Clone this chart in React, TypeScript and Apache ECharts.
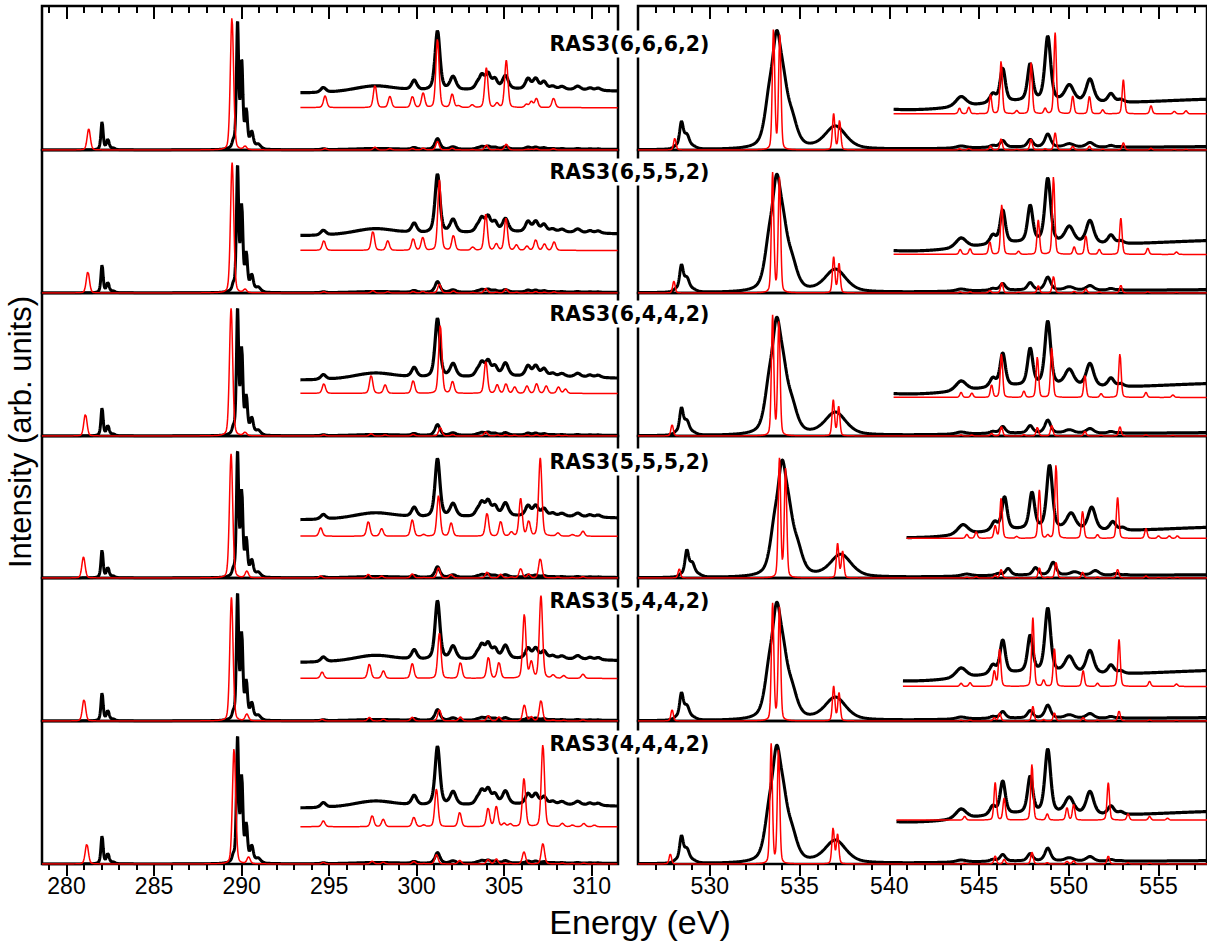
import React, { useEffect, useRef } from "react";
import * as echarts from "echarts";

// ---------------- data ----------------
const ROW_LABELS = ["RAS3(6,6,6,2)", "RAS3(6,5,5,2)", "RAS3(6,4,4,2)", "RAS3(5,5,5,2)", "RAS3(5,4,4,2)", "RAS3(4,4,4,2)"];

const C_RANGE = [278.6, 311.5];
const O_RANGE = [526.0, 557.7];
const C_MAJOR = [280, 285, 290, 295, 300, 305, 310];
const C_MINOR = [279, 281, 282, 283, 284, 286, 287, 288, 289, 291, 292, 293, 294, 296, 297, 298, 299, 301, 302, 303, 304, 306, 307, 308, 309, 311];
const O_MAJOR = [530, 535, 540, 545, 550, 555];
const O_MINOR = [527, 528, 529, 531, 532, 533, 534, 536, 537, 538, 539, 541, 542, 543, 544, 546, 547, 548, 549, 551, 552, 553, 554, 556, 557];

// experiment, carbon K-edge: [energy, height, fwhm]
const EXP_C: [number, number, number][] = [
  [282.03, 0.21, 0.15], [282.36, 0.075, 0.18], [282.65, 0.012, 0.3],
  [289.52, 0.035, 0.15], [289.77, 0.93, 0.15], [290.01, 0.62, 0.16], [290.27, 0.27, 0.17], [290.58, 0.12, 0.22], [290.95, 0.035, 0.35],
  [294.67, 0.0065, 0.35], [297.6, 0.009, 3.0], [306.5, 0.0065, 14],
  [299.86, 0.013, 0.35], [301.19, 0.081, 0.33], [302.08, 0.018, 0.4],
  [303.45, 0.006, 0.3], [303.72, 0.018, 0.35], [304.08, 0.02, 0.35], [304.47, 0.013, 0.35], [305.07, 0.018, 0.4],
  [306.36, 0.014, 0.35], [306.8, 0.014, 0.35], [307.27, 0.01, 0.35], [307.77, 0.004, 0.35], [308.3, 0.004, 0.4],
  [309.2, 0.005, 0.4], [309.9, 0.003, 0.35], [310.37, 0.003, 0.35],
];

// experiment, oxygen K-edge: [energy, height, fwhm]
const EXP_O: [number, number, number][] = [
  [528.1, 0.015, 0.3], [528.42, 0.19, 0.25], [528.72, 0.1, 0.35], [529.1, 0.015, 0.4],
  [533.3, 0.3, 0.6], [533.72, 0.64, 0.55], [534.1, 0.36, 0.65], [534.6, 0.16, 0.7],
  [537.0, 0.17, 1.4], [547.0, 0.012, 7], [560.0, 0.026, 20],
  [544.0, 0.015, 0.7], [545.77, 0.013, 0.4], [546.32, 0.05, 0.35], [547.85, 0.055, 0.35],
  [548.83, 0.097, 0.38], [550.03, 0.025, 0.6], [551.18, 0.035, 0.5], [552.35, 0.013, 0.4], [552.9, 0.004, 0.4],
];

// theory (RAS), carbon K-edge: [energy, height]
const C_R1: [number, number][] = [
  [281.27, 0.158], [289.45, 0.99], [290.2, 0.025],
  [294.77, 0.011], [297.62, 0.021], [298.47, 0.0104], [299.76, 0.0104], [300.37, 0.0135], [301.19, 0.064], [302.03, 0.0125], [302.4, 0.0016],
  [303.17, 0.0025], [303.98, 0.037], [304.59, 0.004], [305.12, 0.044], [306.27, 0.003], [306.55, 0.0056], [306.84, 0.0085], [307.82, 0.0088],
];
const C_R2: [number, number][] = [
  [281.22, 0.16], [289.46, 0.98], [290.2, 0.025],
  [294.7, 0.009], [297.5, 0.018], [298.35, 0.009], [299.8, 0.011], [300.35, 0.012], [301.3, 0.066], [302.1, 0.014], [303.2, 0.003],
  [303.95, 0.034], [304.55, 0.006], [305.1, 0.03], [305.7, 0.005], [306.3, 0.004], [306.8, 0.01], [307.3, 0.006], [307.85, 0.008],
];
const C_R3: [number, number][] = [
  [281.08, 0.165], [289.4, 0.96], [290.2, 0.025],
  [294.7, 0.009], [297.4, 0.017], [298.2, 0.008], [299.8, 0.012], [301.35, 0.064], [302.05, 0.011], [303.95, 0.03], [304.6, 0.008],
  [305.1, 0.009], [305.6, 0.006], [306.3, 0.007], [306.85, 0.009], [307.4, 0.007], [308.1, 0.006], [308.5, 0.004],
];
const C_R4: [number, number][] = [
  [280.97, 0.16], [289.4, 0.94], [290.3, 0.05],
  [294.52, 0.016], [297.24, 0.028], [298.0, 0.0145], [299.75, 0.031], [300.4, 0.003], [301.25, 0.077], [301.97, 0.025], [304.02, 0.044],
  [304.8, 0.028], [305.41, 0.0075], [305.94, 0.071], [306.4, 0.028], [307.06, 0.148], [308.07, 0.006], [308.9, 0.003], [309.5, 0.0095],
];
const C_R5: [number, number][] = [
  [281.0, 0.163], [289.42, 0.93], [290.3, 0.05],
  [294.6, 0.012], [297.3, 0.027], [298.1, 0.014], [299.75, 0.028], [301.3, 0.085], [302.5, 0.03], [304.1, 0.04], [304.7, 0.03],
  [306.15, 0.12], [306.55, 0.03], [307.1, 0.155], [307.8, 0.006], [308.4, 0.005], [309.5, 0.008],
];
const C_R6: [number, number][] = [
  [281.16, 0.15], [289.57, 0.87], [290.4, 0.05],
  [294.67, 0.011], [297.46, 0.021], [298.09, 0.014], [299.84, 0.018], [300.4, 0.003], [301.13, 0.071], [302.46, 0.027], [304.08, 0.035],
  [304.55, 0.038], [305.0, 0.006], [305.35, 0.005], [306.13, 0.091], [307.21, 0.154], [308.32, 0.006], [308.9, 0.003], [309.55, 0.006], [310.15, 0.003],
];

// theory (RAS), oxygen K-edge: [energy, height]
const O_R1: [number, number][] = [
  [528.05, 0.088], [533.55, 0.9], [533.9, 0.85], [536.9, 0.27], [537.23, 0.22],
  [543.91, 0.009], [544.43, 0.0106], [545.64, 0.03], [546.23, 0.084], [547.1, 0.005], [547.9, 0.081], [548.68, 0.0085], [549.24, 0.129],
  [550.22, 0.028], [551.15, 0.028], [551.89, 0.0064], [553.04, 0.054], [554.58, 0.0128], [555.88, 0.004], [556.53, 0.005],
];
const O_R2: [number, number][] = [
  [528.0, 0.09], [533.5, 0.9], [533.88, 0.86], [536.9, 0.27], [537.2, 0.22],
  [543.95, 0.008], [544.5, 0.009], [545.6, 0.02], [546.27, 0.08], [547.2, 0.005], [548.3, 0.055], [549.15, 0.125], [550.3, 0.012],
  [550.95, 0.03], [551.7, 0.008], [552.9, 0.058], [554.4, 0.01], [556.0, 0.004],
];
const O_R3: [number, number][] = [
  [527.9, 0.085], [533.5, 0.9], [533.85, 0.86], [536.88, 0.27], [537.18, 0.22],
  [544.0, 0.008], [544.6, 0.007], [545.7, 0.02], [546.25, 0.07], [547.5, 0.01], [548.25, 0.065], [549.05, 0.08], [550.9, 0.035],
  [551.8, 0.006], [552.85, 0.07], [554.3, 0.008], [555.8, 0.004],
];
const O_R4: [number, number][] = [
  [528.3, 0.07], [533.88, 0.9], [534.22, 0.82], [537.12, 0.26], [537.4, 0.2],
  [544.32, 0.0064], [544.84, 0.0106], [545.9, 0.02], [546.23, 0.065], [547.1, 0.003], [548.36, 0.078], [548.83, 0.005], [549.29, 0.119],
  [550.77, 0.044], [551.6, 0.006], [552.72, 0.066], [554.3, 0.016], [555.0, 0.004], [555.6, 0.004], [556.05, 0.004],
];
const O_R5: [number, number][] = [
  [527.9, 0.085], [533.5, 0.88], [533.88, 0.85], [536.9, 0.26], [537.2, 0.21],
  [544.0, 0.005], [544.5, 0.006], [545.85, 0.025], [546.15, 0.06], [548.0, 0.11], [548.6, 0.01], [549.2, 0.06], [550.8, 0.025],
  [551.6, 0.005], [552.8, 0.075], [554.5, 0.008], [556.0, 0.004],
];
const O_R6: [number, number][] = [
  [527.8, 0.075], [533.42, 0.9], [533.83, 0.86], [536.87, 0.27], [537.12, 0.22],
  [544.2, 0.006], [545.9, 0.06], [546.4, 0.035], [547.95, 0.09], [548.8, 0.01], [549.9, 0.02], [550.27, 0.025], [552.2, 0.06],
  [553.3, 0.01], [554.5, 0.006], [555.5, 0.003],
];

const C_THEORY = [C_R1, C_R2, C_R3, C_R4, C_R5, C_R6];
const O_THEORY = [O_R1, O_R2, O_R3, O_R4, O_R5, O_R6];

// magnified insets (offset + scale * spectrum)
const C_INSET_START = [293.35, 293.35, 293.35, 293.35, 293.35, 293.35];
const C_INSET_EXP_OFFSET = [0.415, 0.42, 0.41, 0.43, 0.43, 0.41];
const C_INSET_EXP_SCALE = [5.5, 5.5, 5.5, 5.5, 5.5, 5.5];
const C_INSET_TH_OFFSET = [0.316, 0.32, 0.32, 0.316, 0.32, 0.28];
const C_INSET_TH_SCALE = [8, 8, 8, 4, 4, 4];

const O_INSET_START = [540.24, 540.24, 540.24, 540.95, 540.75, 540.4];
const O_INSET_EXP_OFFSET = [0.25, 0.265, 0.265, 0.255, 0.25, 0.265];
const O_INSET_EXP_SCALE = [5, 5, 5, 5, 5, 5];
const O_INSET_TH_OFFSET = [0.27, 0.29, 0.29, 0.3, 0.26, 0.33];
const O_INSET_TH_SCALE = [4.7, 4.7, 4.7, 4.7, 4.7, 4.7];
const O_EXP_SHIFT_MAIN = [0, 0, 0, 0.3, 0, 0];
const O_EXP_SHIFT_INSET = [0, 0, 0, 0.1, 0, 0];

// ---------------- helpers ----------------
function pv(x: number, c: number, h: number, w: number, eta: number) {
  const r = (x - c) / w;
  const g = Math.exp(-4 * Math.LN2 * r * r);
  const l = 1 / (1 + 4 * r * r);
  return h * (eta * l + (1 - eta) * g);
}
function expAt(peaks: [number, number, number][], x: number) {
  let s = 0;
  for (const p of peaks) s += pv(x, p[0], p[1], p[2], 0.5);
  return s;
}
function thAt(peaks: [number, number][], x: number, w: number) {
  let s = 0;
  for (const p of peaks) s += pv(x, p[0], p[1], w, 0.25);
  return s;
}
function grid(lo: number, hi: number, step: number) {
  const n = Math.round((hi - lo) / step);
  const out: number[] = [];
  for (let i = 0; i <= n; i++) out.push(lo + i * step);
  return out;
}

const ROW_TOPS = [6, 150, 293, 436, 578, 721, 864];
const LABEL_Y = [44, 172, 314, 462, 601, 744];

function buildOption() {
  const grids: any[] = [];
  const xAxes: any[] = [];
  const yAxes: any[] = [];
  const series: any[] = [];
  const xsC = grid(C_RANGE[0], C_RANGE[1], 0.02);
  const xsO = grid(O_RANGE[0], O_RANGE[1], 0.02);

  for (let r = 0; r < 6; r++) {
    for (let c = 0; c < 2; c++) {
      const gi = r * 2 + c;
      const top = ROW_TOPS[r];
      const h = ROW_TOPS[r + 1] - top;
      grids.push({
        left: c === 0 ? 42 : 638,
        width: c === 0 ? 576 : 572,
        top,
        height: h,
        show: true,
        borderColor: "#000",
        borderWidth: 2.5,
        backgroundColor: "transparent",
        containLabel: false,
      });
      const range = c === 0 ? C_RANGE : O_RANGE;
      const major = c === 0 ? C_MAJOR : O_MAJOR;
      const minor = c === 0 ? C_MINOR : O_MINOR;
      const bottom = r === 5;
      const mainIdx = xAxes.length;
      xAxes.push({
        type: "value", gridIndex: gi, min: range[0], max: range[1], position: "bottom",
        axisLine: { show: false },
        axisTick: { show: bottom, customValues: major, length: 12, lineStyle: { color: "#000", width: 2 } },
        axisLabel: { show: bottom, customValues: major, fontSize: 23, fontFamily: "Liberation Sans", color: "#000", margin: 10 },
        splitLine: { show: false },
      });
      if (bottom) {
        xAxes.push({
          type: "value", gridIndex: gi, min: range[0], max: range[1], position: "bottom",
          axisLine: { show: false },
          axisTick: { show: true, customValues: minor, length: 6, lineStyle: { color: "#000", width: 2 } },
          axisLabel: { show: false },
          splitLine: { show: false },
        });
      }
      if (r === 0) {
        xAxes.push({
          type: "value", gridIndex: gi, min: range[0], max: range[1], position: "top",
          axisLine: { show: false },
          axisTick: { show: true, inside: true, customValues: major, length: 13, lineStyle: { color: "#000", width: 2 } },
          axisLabel: { show: false },
          splitLine: { show: false },
        });
        xAxes.push({
          type: "value", gridIndex: gi, min: range[0], max: range[1], position: "top",
          axisLine: { show: false },
          axisTick: { show: true, inside: true, customValues: minor, length: 7, lineStyle: { color: "#000", width: 2 } },
          axisLabel: { show: false },
          splitLine: { show: false },
        });
      }
      yAxes.push({ type: "value", gridIndex: gi, min: 0, max: 1.075, show: false });

      const xs = c === 0 ? xsC : xsO;
      const exp = c === 0 ? EXP_C : EXP_O;
      const th = c === 0 ? C_THEORY[r] : O_THEORY[r];
      const thW = c === 0 ? 0.22 : 0.16;
      const shiftMain = c === 0 ? 0 : O_EXP_SHIFT_MAIN[r];
      const shiftInset = c === 0 ? 0 : O_EXP_SHIFT_INSET[r];
      const start = c === 0 ? C_INSET_START[r] : O_INSET_START[r];
      const eOff = c === 0 ? C_INSET_EXP_OFFSET[r] : O_INSET_EXP_OFFSET[r];
      const eSc = c === 0 ? C_INSET_EXP_SCALE[r] : O_INSET_EXP_SCALE[r];
      const tOff = c === 0 ? C_INSET_TH_OFFSET[r] : O_INSET_TH_OFFSET[r];
      const tSc = c === 0 ? C_INSET_TH_SCALE[r] : O_INSET_TH_SCALE[r];
      const xsInset = xs.filter((x) => x >= start);

      const common = { type: "line", xAxisIndex: mainIdx, yAxisIndex: gi, showSymbol: false, silent: true, animation: false };
      series.push({ ...common, z: 3, data: xs.map((x) => [x, expAt(exp, x - shiftMain)]), lineStyle: { color: "#000", width: 3 } });
      series.push({ ...common, z: 3, data: xsInset.map((x) => [x, eOff + eSc * expAt(exp, x - shiftInset)]), lineStyle: { color: "#000", width: 3.2 } });
      series.push({ ...common, z: 4, data: xs.map((x) => [x, thAt(th, x, thW)]), lineStyle: { color: "#ff0000", width: 1.5 } });
      series.push({ ...common, z: 4, data: xsInset.map((x) => [x, tOff + tSc * thAt(th, x, thW)]), lineStyle: { color: "#ff0000", width: 1.5 } });
    }
  }

  const graphic: any[] = ROW_LABELS.map((t, i) => ({
    type: "text", x: 629.5, y: LABEL_Y[i], z: 100,
    style: { text: t, fontSize: 20.5, fontWeight: "bold", fontFamily: "DejaVu Sans", fill: "#000", align: "center", verticalAlign: "middle", backgroundColor: "#fff", padding: [3, 2] },
  }));
  graphic.push({
    type: "text", x: 20, y: 432, rotation: Math.PI / 2, z: 100,
    style: { text: "Intensity (arb. units)", fontSize: 31, fontFamily: "Liberation Sans", fill: "#000", align: "center", verticalAlign: "middle" },
  });
  graphic.push({
    type: "text", x: 640, y: 922, z: 100,
    style: { text: "Energy (eV)", fontSize: 34, fontFamily: "Liberation Sans", fill: "#000", align: "center", verticalAlign: "middle" },
  });

  return { animation: false, grid: grids, xAxis: xAxes, yAxis: yAxes, series, graphic };
}

export default function App() {
  const ref = useRef<HTMLDivElement>(null);
  useEffect(() => {
    if (!ref.current) return;
    const chart = echarts.init(ref.current, undefined, { renderer: "svg" });
    chart.setOption(buildOption() as any);
    return () => chart.dispose();
  }, []);
  return <div ref={ref} style={{ position: "absolute", left: 0, top: 0, width: 1207, height: 945, background: "#fff" }} />;
}
